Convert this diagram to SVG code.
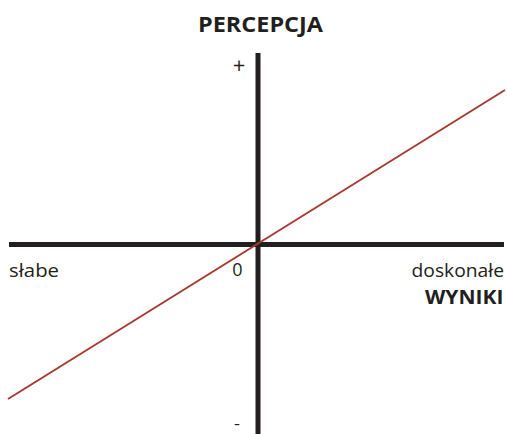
<svg xmlns="http://www.w3.org/2000/svg" width="507" height="434" viewBox="0 0 507 434">
<style>
text{font-family:"Open Sans","Noto Sans",sans-serif;fill:#231f20;}
.b{font-weight:bold;}
.r{font-size:18px;}
.axis{stroke:#231f20;stroke-width:5;fill:none;}
.trend{stroke:#a83a32;stroke-width:2;fill:none;}
</style>
<rect width="507" height="434" fill="#ffffff"/>
<g id="connectors">
<line class="axis" x1="9" y1="244.5" x2="504" y2="244.5"/>
<line class="axis" x1="258" y1="53" x2="258" y2="434"/>
<line class="trend" x1="8" y1="399" x2="505" y2="90"/>
</g>
<g id="title"><text class="b" x="260.5" y="31.5" font-size="22" text-anchor="middle" textLength="125" lengthAdjust="spacingAndGlyphs">PERCEPCJA</text></g>
<g id="plus"><text x="239" y="73" font-size="22" text-anchor="middle">+</text></g>
<g id="minus"><text x="237" y="429" font-size="16" text-anchor="middle" textLength="6" lengthAdjust="spacingAndGlyphs">-</text></g>
<g id="zero"><text class="r" x="237.5" y="276" text-anchor="middle">0</text></g>
<g id="slabe"><text class="r" x="9" y="276.5" textLength="50" lengthAdjust="spacingAndGlyphs">słabe</text></g>
<g id="doskonale"><text class="r" x="504" y="276.5" text-anchor="end" textLength="92.5" lengthAdjust="spacingAndGlyphs">doskonałe</text></g>
<g id="wyniki"><text class="b" x="503.5" y="304" font-size="20" text-anchor="end" textLength="78.5" lengthAdjust="spacingAndGlyphs">WYNIKI</text></g>
</svg>
